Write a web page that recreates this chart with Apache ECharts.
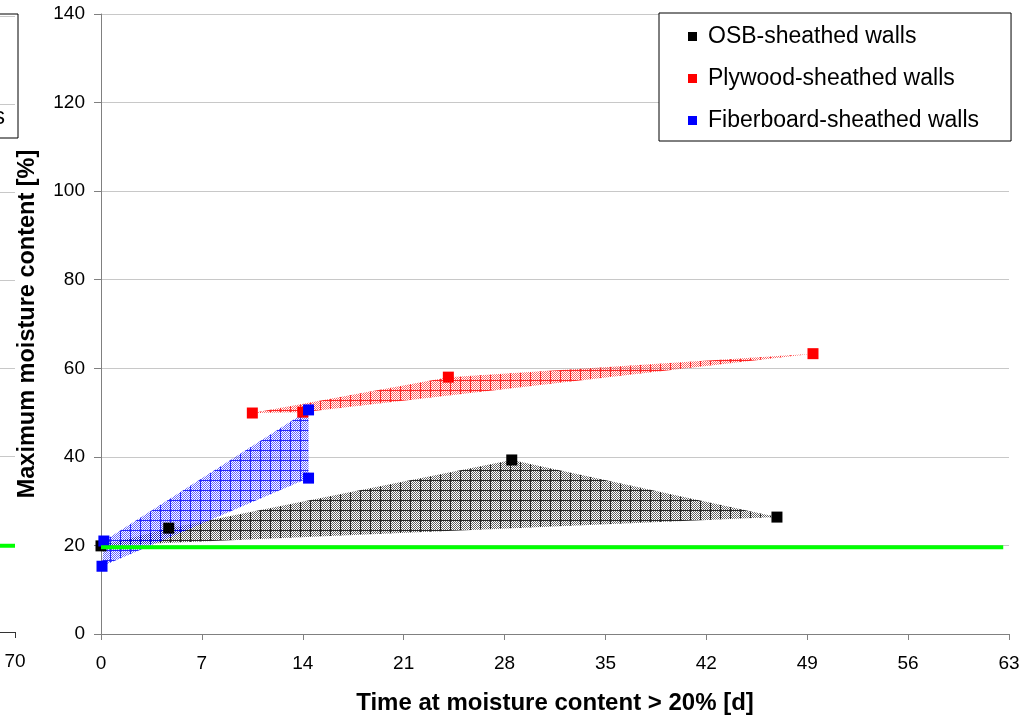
<!DOCTYPE html>
<html>
<head>
<meta charset="utf-8">
<script src="https://cdn.jsdelivr.net/npm/echarts@6/dist/echarts.min.js"></script>
<style>
  html, body { margin: 0; padding: 0; background: #fff; }
  #chart { width: 1023px; height: 718px; }
</style>
</head>
<body>
<div id="chart"></div>
<script>
// values
const osbX = [0, 4.7, 28.5, 46.9];
const osbY = [19.9, 23.9, 39.3, 26.4];
const plyX = [10.5, 14.0, 24.1, 49.4];
const plyY = [49.9, 50.1, 58.0, 63.3];
const fibX = [0.07, 0.2, 14.4, 14.4];
const fibY = [15.3, 21.0, 50.6, 35.2];
const limitX = [0, 62.6];
const limitY = [19.6, 19.6];
// cut-off neighbour panel on the left: only its last x tick (70) is visible
const leftLimitX = [69.2, 70];
const names = ['OSB-sheathed walls', 'Plywood-sheathed walls', 'Fiberboard-sheathed walls'];

const FONT = '"Liberation Sans", Arial, sans-serif';

function pts(xs, ys) { return xs.map((x, i) => [x, ys[i]]); }

function hull(xs, ys) {
  const p = pts(xs, ys).sort((a, b) => a[0] - b[0] || a[1] - b[1]);
  const cross = (o, a, b) => (a[0] - o[0]) * (b[1] - o[1]) - (a[1] - o[1]) * (b[0] - o[0]);
  const lo = [], up = [];
  for (const q of p) {
    while (lo.length >= 2 && cross(lo[lo.length - 2], lo[lo.length - 1], q) <= 0) lo.pop();
    lo.push(q);
  }
  for (const q of p.slice().reverse()) {
    while (up.length >= 2 && cross(up[up.length - 2], up[up.length - 1], q) <= 0) up.pop();
    up.push(q);
  }
  return lo.slice(0, -1).concat(up.slice(0, -1));
}

// excel-like "large grid" dither pattern, transparent background
function hatch(rgb) {
  const n = 10;
  const c = document.createElement('canvas');
  c.width = n; c.height = n;
  const g = c.getContext('2d');
  for (let y = 0; y < n; y++)
    for (let x = 0; x < n; x++) {
      if (x === 0 || y === 0) g.fillStyle = 'rgba(' + rgb + ',0.85)';
      else if ((x + y) % 2 === 0) g.fillStyle = 'rgba(' + rgb + ',0.6)';
      else continue;
      g.fillRect(x, y, 1, 1);
    }
  return c;
}

function areaSeries(xs, ys, rgb) {
  const data = hull(xs, ys);
  const fill = { image: hatch(rgb), repeat: 'repeat' };
  return {
    type: 'custom',
    name: 'area',
    xAxisIndex: 0, yAxisIndex: 0,
    data: data,
    encode: { x: 0, y: 1 },
    silent: true,
    renderItem: function (params, api) {
      if (params.dataIndex !== 0) return null;
      return {
        type: 'polygon',
        shape: { points: data.map(d => api.coord(d)) },
        style: { fill: fill, stroke: null }
      };
    }
  };
}

function pointSeries(name, xs, ys, color) {
  return {
    type: 'scatter',
    name: name,
    xAxisIndex: 0, yAxisIndex: 0,
    symbol: 'rect',
    symbolSize: 11,
    itemStyle: { color: color, opacity: 1 },
    data: pts(xs, ys)
  };
}

const axisLabel = { color: '#000', fontSize: 19, fontFamily: FONT };

const chart = echarts.init(document.getElementById('chart'), null, { renderer: 'canvas' });
chart.setOption({
  animation: false,
  backgroundColor: '#fff',
  textStyle: { fontFamily: FONT },
  grid: [
    { left: 101, right: 14, top: 14, bottom: 84, outerBoundsMode: 'none', containLabel: false },
    { left: 0, width: 15, top: 16, bottom: 86, outerBoundsMode: 'none', containLabel: false }
  ],
  xAxis: [
    {
      type: 'value', gridIndex: 0, min: 0, max: 63, interval: 7,
      splitLine: { show: false },
      axisLine: { lineStyle: { color: '#808080', width: 1 } },
      axisTick: { length: 6, lineStyle: { color: '#808080' } },
      axisLabel: Object.assign({ margin: 20 }, axisLabel),
      name: 'Time at moisture content > 20% [d]',
      nameLocation: 'middle', nameGap: 57,
      nameTextStyle: { color: '#000', fontSize: 24, fontWeight: 'bold', fontFamily: FONT }
    },
    {
      type: 'value', gridIndex: 1, min: 69.2, max: 70, interval: 0.8,
      splitLine: { show: false },
      axisLine: { lineStyle: { color: '#333', width: 1 } },
      axisTick: { length: 6, lineStyle: { color: '#333' } },
      axisLabel: Object.assign({ margin: 20, showMinLabel: false }, axisLabel)
    }
  ],
  yAxis: [
    {
      type: 'value', gridIndex: 0, min: 0, max: 140, interval: 20,
      splitLine: { lineStyle: { color: '#c8c8c8', width: 1 } },
      axisLine: { show: true, lineStyle: { color: '#808080', width: 1 } },
      axisTick: { show: true, length: 7, lineStyle: { color: '#808080' } },
      axisLabel: Object.assign({ margin: 16 }, axisLabel),
      name: 'Maximum moisture content [%]',
      nameLocation: 'middle', nameGap: 61,
      nameTextStyle: { color: '#000', fontSize: 23.5, fontWeight: 'bold', fontFamily: FONT }
    },
    {
      type: 'value', gridIndex: 1, min: 0, max: 140, interval: 20,
      splitLine: { lineStyle: { color: '#c8c8c8', width: 1 } },
      axisLine: { show: false },
      axisTick: { show: false },
      axisLabel: { show: false }
    }
  ],
  legend: {
    data: names,
    orient: 'vertical',
    left: 659, top: 13,
    backgroundColor: '#fff',
    borderColor: '#000', borderWidth: 1, borderRadius: 0,
    padding: [12, 32, 9, 29],
    itemGap: 19,
    itemWidth: 9, itemHeight: 9,
    icon: 'rect',
    textStyle: { color: '#000', fontSize: 23, fontFamily: FONT, padding: [0, 0, 0, 6] },
    z: 20
  },
  graphic: [
    {
      type: 'group', z: 100,
      children: [
        { type: 'rect', shape: { x: -300, y: 14, width: 318, height: 124 },
          style: { fill: '#fff', stroke: '#000', lineWidth: 1 } },
        { type: 'text', x: 5, y: 118,
          style: { text: 'Fiberboard-sheathed walls', font: '23px ' + FONT,
                   fill: '#000', align: 'right', verticalAlign: 'middle' } }
      ]
    }
  ],
  series: [
    {
      type: 'line', name: 'limit-left', xAxisIndex: 1, yAxisIndex: 1,
      data: pts(leftLimitX, limitY), symbol: 'none',
      lineStyle: { color: '#00ff00', width: 4 }
    },
    {
      type: 'line', name: 'limit', xAxisIndex: 0, yAxisIndex: 0,
      data: pts(limitX, limitY), symbol: 'none',
      lineStyle: { color: '#00ff00', width: 4 }
    },
    areaSeries(osbX, osbY, '0,0,0'),
    pointSeries(names[0], osbX, osbY, '#000000'),
    areaSeries(plyX, plyY, '255,0,0'),
    pointSeries(names[1], plyX, plyY, '#ff0000'),
    areaSeries(fibX, fibY, '0,0,255'),
    pointSeries(names[2], fibX, fibY, '#0000ff')
  ]
});
</script>
</body>
</html>
